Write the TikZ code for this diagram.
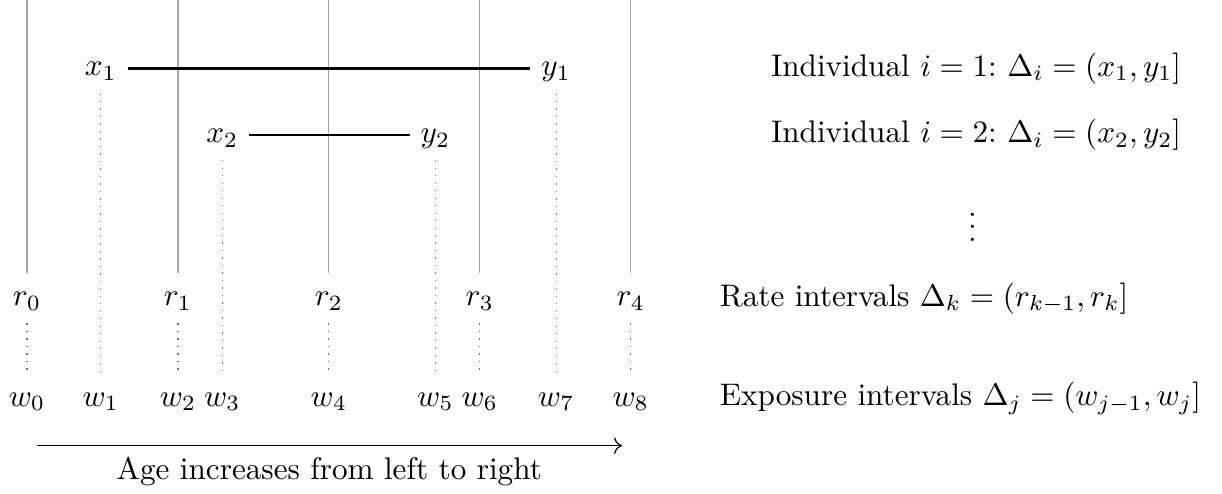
\documentclass[tikz,border=0pt]{standalone}
\usepackage{amsmath,amssymb}
\usepackage{tikz}
\usetikzlibrary{arrows.meta,positioning}
\colorlet{rategray}{black!35}
\colorlet{dotgray}{black!55}

\begin{document}
\begin{tikzpicture}[>=To,
  lbl/.style={text height=1.6ex,text depth=.5ex},
  rateline/.style={draw=rategray,line width=0.4pt},
  expline/.style={draw=dotgray,dotted},
  indivline/.style={thick}]
\useasboundingbox (-0.304,0) rectangle (13.46,-5.56);
% rate breakpoints and exposure breakpoints
\node[lbl] (r0) at (0,-3.36) {$r_0$}; \node[lbl] (r1) at (1.7,-3.36) {$r_1$}; \node[lbl] (r2) at (3.4,-3.36) {$r_2$};
\node[lbl] (r3) at (5.1,-3.36) {$r_3$}; \node[lbl] (r4) at (6.8,-3.36) {$r_4$};
\node[lbl] (w0) at (0,-4.49) {$w_0$}; \node[lbl] (w1) at (0.83,-4.49) {$w_1$}; \node[lbl] (w2) at (1.7,-4.49) {$w_2$};
\node[lbl] (w3) at (2.2,-4.49) {$w_3$}; \node[lbl] (w4) at (3.4,-4.49) {$w_4$}; \node[lbl] (w5) at (4.6,-4.49) {$w_5$};
\node[lbl] (w6) at (5.1,-4.49) {$w_6$}; \node[lbl] (w7) at (5.96,-4.49) {$w_7$}; \node[lbl] (w8) at (6.8,-4.49) {$w_8$};
\coordinate (t0) at (0,0); \coordinate (t1) at (1.7,0); \coordinate (t2) at (3.4,0); \coordinate (t3) at (5.1,0); \coordinate (t4) at (6.8,0);
\draw[rateline] (t0)--(r0); \draw[rateline] (t1)--(r1); \draw[rateline] (t2)--(r2); \draw[rateline] (t3)--(r3); \draw[rateline] (t4)--(r4);
% individuals
\node[lbl] (x1) at (0.83,-0.77) {$x_1$}; \node[lbl] (y1) at (5.96,-0.77) {$y_1$};
\node[lbl] (x2) at (2.2,-1.52) {$x_2$}; \node[lbl] (y2) at (4.6,-1.52) {$y_2$};
\draw[indivline] (x1)--(y1); \draw[indivline] (x2)--(y2);
\draw[expline] (r0)--(w0); \draw[expline] (r1)--(w2); \draw[expline] (r2)--(w4); \draw[expline] (r3)--(w6); \draw[expline] (r4)--(w8);
\draw[expline] (x1)--(w1); \draw[expline] (x2)--(w3); \draw[expline] (y2)--(w5); \draw[expline] (y1)--(w7);
% direction of age
\coordinate (a0) at (0.11,-5.02); \coordinate (a1) at (6.70,-5.02);
\draw[->] (a0)--(a1) node[midway,below] (age) {Age increases from left to right};
% legend on the right
\node (ind1) at (10.69,-0.77) {Individual $i=1$:\ $\Delta_i=(x_1,y_1]$};
\node (ind2) at (10.69,-1.52) {Individual $i=2$:\ $\Delta_i=(x_2,y_2]$};
\node (more) at (10.65,-2.45) {$\vdots$};
\node[right] (rate) at (7.68,-3.36) {Rate intervals $\Delta_k=(r_{k-1},r_k]$};
\node[right] (expo) at (7.68,-4.49) {Exposure intervals $\Delta_j=(w_{j-1},w_j]$};
\end{tikzpicture}
\end{document}
